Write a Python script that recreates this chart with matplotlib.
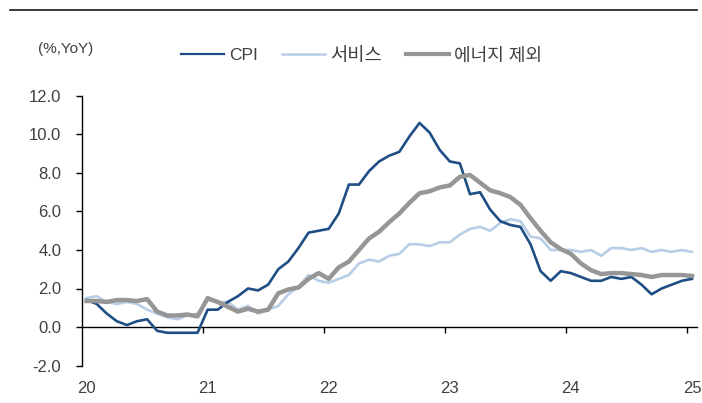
import matplotlib
matplotlib.use("Agg")
import matplotlib.pyplot as plt
from matplotlib import font_manager
from matplotlib.lines import Line2D

# ---- data (monthly, Jan 2020 .. Jan 2025) ----
cpi = [1.4, 1.2, 0.7, 0.3, 0.1, 0.3, 0.4, -0.2, -0.3, -0.3, -0.3, -0.3,
       0.9, 0.9, 1.3, 1.6, 2.0, 1.9, 2.2, 3.0, 3.4, 4.1, 4.9, 5.0,
       5.1, 5.9, 7.4, 7.4, 8.1, 8.6, 8.9, 9.1, 9.9, 10.6, 10.1, 9.2,
       8.6, 8.5, 6.9, 7.0, 6.1, 5.5, 5.3, 5.2, 4.3, 2.9, 2.4, 2.9,
       2.8, 2.6, 2.4, 2.4, 2.6, 2.5, 2.6, 2.2, 1.7, 2.0, 2.2, 2.4,
       2.5]
services = [1.5, 1.6, 1.3, 1.2, 1.3, 1.2, 0.9, 0.7, 0.5, 0.4, 0.6, 0.7,
            1.4, 1.3, 1.3, 0.9, 1.1, 0.7, 0.9, 1.1, 1.7, 2.1, 2.7, 2.4,
            2.3, 2.5, 2.7, 3.3, 3.5, 3.4, 3.7, 3.8, 4.3, 4.3, 4.2, 4.4,
            4.4, 4.8, 5.1, 5.2, 5.0, 5.4, 5.6, 5.5, 4.7, 4.6, 4.0, 4.0,
            4.0, 3.9, 4.0, 3.7, 4.1, 4.1, 4.0, 4.1, 3.9, 4.0, 3.9, 4.0,
            3.9]
ex_energy = [1.35, 1.35, 1.3, 1.4, 1.4, 1.35, 1.45, 0.8, 0.6, 0.6, 0.65, 0.55,
             1.5, 1.3, 1.05, 0.8, 0.95, 0.8, 0.9, 1.75, 1.95, 2.05, 2.5, 2.8,
             2.5, 3.1, 3.4, 4.0, 4.6, 4.95, 5.45, 5.9, 6.45, 6.95, 7.05, 7.25,
             7.35, 7.8, 7.9, 7.5, 7.1, 6.95, 6.75, 6.35, 5.65, 5.0, 4.4, 4.05,
             3.8, 3.3, 2.95, 2.75, 2.8, 2.8, 2.75, 2.7, 2.6, 2.7, 2.7, 2.7,
             2.65]
year_labels = ["20", "21", "22", "23", "24", "25"]
series_names = ["CPI", "서비스", "에너지 제외"]
y_ticks = [-2.0, 0.0, 2.0, 4.0, 6.0, 8.0, 10.0, 12.0]

# ---- fonts ----
names = {f.name for f in font_manager.fontManager.ttflist}
base = "Liberation Sans Narrow" if "Liberation Sans Narrow" in names else "Liberation Sans"
plt.rcParams["font.family"] = [base, "Noto Sans CJK KR", "DejaVu Sans"]

txt_color = "#404040"
FS = 12

fig = plt.figure(figsize=(7.02, 4.03), dpi=100)
ax = fig.add_axes([81.5 / 702, 1 - 365.5 / 403, (697 - 81.5) / 702, (365.5 - 96) / 403])

x = list(range(len(cpi)))
ax.plot(x, cpi, color="#1F4E85", lw=1.9, label=series_names[0], zorder=3)
ax.plot(x, services, color="#B8CDE6", lw=1.9, label=series_names[1], zorder=2)
ax.plot(x, ex_energy, color="#969696", lw=3.2, label=series_names[2], zorder=4)

ax.set_xlim(-0.5, 60.5)
ax.set_ylim(-2, 12)
ax.set_yticks(y_ticks)
ax.set_yticklabels([f"{v:.1f}" for v in y_ticks])
ax.set_xticks([12 * k for k in range(len(year_labels))])
ax.set_xticklabels(year_labels)

for s in ["top", "right", "bottom"]:
    ax.spines[s].set_visible(False)
ax.spines["left"].set_color("#000000")
ax.spines["left"].set_linewidth(1.0)
ax.tick_params(axis="y", direction="out", length=4.5, width=1.0, color="#000000",
               pad=10, labelsize=FS, labelcolor=txt_color)
ax.tick_params(axis="x", length=0, pad=11, labelsize=FS, labelcolor=txt_color)

# zero line with year-boundary tick marks
sec = ax.secondary_xaxis(2 / 14)
sec.spines["bottom"].set_color("#000000")
sec.spines["bottom"].set_linewidth(1.0)
sec.set_xticks([12 * k - 0.5 for k in range(1, len(year_labels))])
sec.tick_params(axis="x", direction="out", length=4, width=1.0, color="#000000",
                labelbottom=False)

# legend and unit label
leg = fig.legend(loc="center left", bbox_to_anchor=(181 / 702, 1 - 56 / 403),
                 ncol=3, frameon=False, fontsize=12.5, handlelength=2.5,
                 handletextpad=0.3, columnspacing=1.35, borderpad=0, borderaxespad=0)
for t in leg.get_texts():
    t.set_color(txt_color)
leg.get_texts()[1].set_fontsize(13.5)
leg.get_texts()[2].set_fontsize(13)
for ln, w in zip(leg.get_lines(), [1.6, 1.8, 3.0]):
    ln.set_linewidth(w)
fig.text(38 / 702, 1 - 49 / 403, "(%,YoY)", fontsize=11, color=txt_color,
         ha="left", va="center")

# top rule
fig.add_artist(Line2D([10 / 702, 697 / 702], [1 - 10 / 403, 1 - 10 / 403],
                      color="#1a1a1a", lw=1.2, transform=fig.transFigure))

fig.savefig("out.png", dpi=100)
